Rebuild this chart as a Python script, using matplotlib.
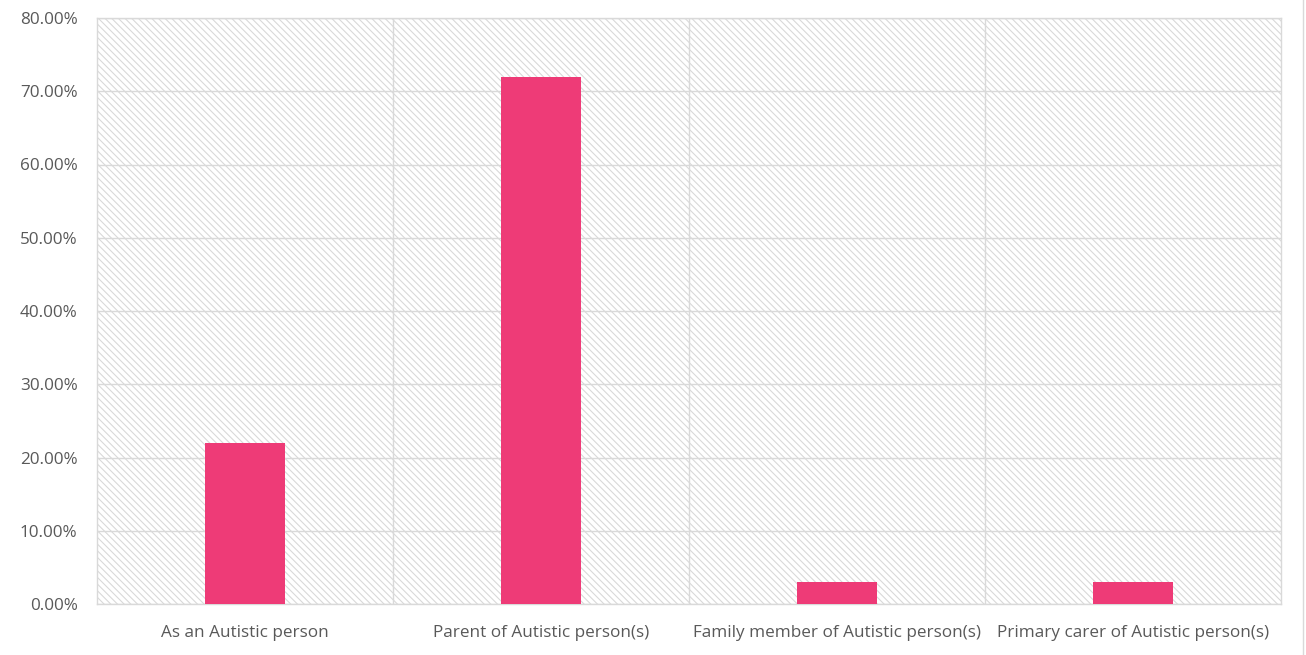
import matplotlib
matplotlib.use("Agg")
import matplotlib.pyplot as plt
from matplotlib.patches import Rectangle
from matplotlib.ticker import FuncFormatter, MultipleLocator

categories = ["As an Autistic person", "Parent of Autistic person(s)",
              "Family member of Autistic person(s)", "Primary carer of Autistic person(s)"]
values = [22.0, 72.0, 3.0, 3.0]

plt.rcParams['font.family'] = ['Open Sans', 'DejaVu Sans']
plt.rcParams['hatch.color'] = '#d9d9d9'
plt.rcParams['hatch.linewidth'] = 0.8

W, H = 1306, 655
fig = plt.figure(figsize=(W/100, H/100), dpi=100)
ax = fig.add_axes([97/W, (H-604)/H, (1281-97)/W, (604-18)/H])

bg = Rectangle((0, 0), 1, 1, transform=ax.transAxes, facecolor='white',
               edgecolor='#d9d9d9', hatch='\\\\\\\\\\', linewidth=0, zorder=0)
ax.add_patch(bg)
ax.set_facecolor('white')

x = list(range(len(categories)))
ax.bar(x, values, width=0.27, color='#EE3B77', zorder=3)

ax.set_xlim(-0.5, len(categories) - 0.5)
ax.set_ylim(0, 80)
ax.yaxis.set_major_locator(MultipleLocator(10))
ax.yaxis.set_major_formatter(FuncFormatter(lambda v, p: f"{v:.2f}%"))
ax.set_xticks(x)
ax.set_xticklabels(categories)
ax.set_xticks([i + 0.5 for i in range(len(categories) - 1)], minor=True)

ax.grid(axis='y', which='major', color='#d9d9d9', linewidth=1, zorder=1)
ax.grid(axis='x', which='minor', color='#d9d9d9', linewidth=1, zorder=1)
ax.grid(axis='x', which='major', visible=False)
ax.set_axisbelow(True)

for s in ax.spines.values():
    s.set_color('#d9d9d9')
    s.set_linewidth(1)

ax.tick_params(axis='both', which='both', length=0, labelsize=12.3, colors='#595959')
ax.tick_params(axis='x', pad=15)
ax.tick_params(axis='y', pad=14)

fig.add_artist(plt.Line2D([1303/W, 1303/W], [0, 1], color='#d9d9d9', linewidth=1))

fig.savefig("out.png", dpi=100, facecolor='white')
